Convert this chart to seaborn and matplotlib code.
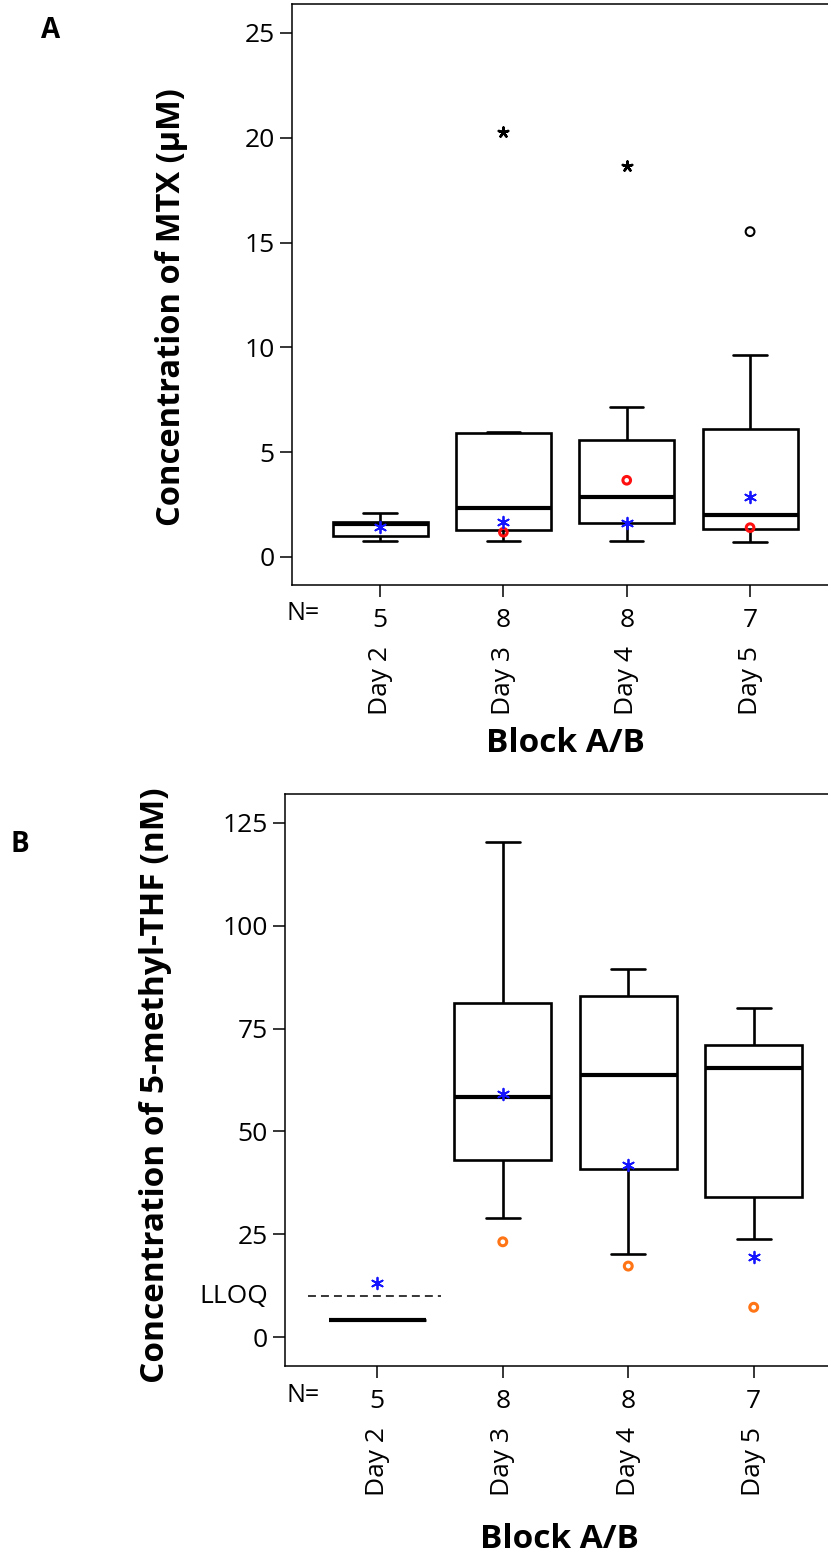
import numpy as np
import pandas as pd
import matplotlib
matplotlib.use("Agg")
import matplotlib.pyplot as plt
import seaborn as sns

# ---- categories -------------------------------------------------------------
days = ["Day 2", "Day 3", "Day 4", "Day 5"]
n_counts = [5, 8, 8, 7]

# ---- panel A: MTX (uM), five-number summaries per day ----------------------
mtx_whisker_lo = [0.76, 0.76, 0.76, 0.70]
mtx_q1 = [1.00, 1.29, 1.64, 1.32]
mtx_median = [1.58, 2.35, 2.85, 1.99]
mtx_q3 = [1.66, 5.90, 5.58, 6.12]
mtx_whisker_hi = [2.08, 5.95, 7.16, 9.64]

# SPSS-flagged points: extreme values (*) and outliers (o)
mtx_extreme_day = [1, 2]
mtx_extreme_val = [20.26, 18.67]
mtx_outlier_day = [3]
mtx_outlier_val = [15.52]

# highlighted individual patients
mtx_blue_day = [0, 1, 2, 3]
mtx_blue_val = [1.42, 1.69, 1.64, 2.88]
mtx_red_day = [1, 2, 3]
mtx_red_val = [1.18, 3.66, 1.40]

# ---- panel B: 5-methyl-THF (nM) ---------------------------------------------
thf_whisker_lo = [4.2, 28.9, 20.2, 23.8]
thf_q1 = [4.2, 43.1, 41.0, 34.1]
thf_median = [4.2, 58.4, 63.7, 65.5]
thf_q3 = [4.2, 81.2, 82.9, 71.0]
thf_whisker_hi = [4.2, 120.4, 89.5, 80.1]
lloq = 10.0

thf_blue_day = [0, 1, 2, 3]
thf_blue_val = [13.25, 59.0, 41.8, 19.4]
thf_orange_day = [1, 2, 3]
thf_orange_val = [23.2, 17.3, 7.3]


def summary_frame(lo, q1, med, q3, hi):
    rows = []
    for d, vals in zip(days, zip(lo, q1, med, q3, hi)):
        rows.extend((d, v) for v in vals)
    return pd.DataFrame(rows, columns=["day", "value"])


sns.set_theme(style="white")
plt.rcParams["font.family"] = ["Open Sans", "DejaVu Sans"]
plt.rcParams["axes.linewidth"] = 1.1
plt.rcParams["text.color"] = "black"
plt.rcParams["axes.labelcolor"] = "black"
plt.rcParams["xtick.color"] = "black"
plt.rcParams["ytick.color"] = "black"

W, H = 829, 1556
fig = plt.figure(figsize=(W / 100, H / 100), dpi=100)


def fx(px):
    return px / W


def fy(py):
    return 1 - py / H


axA = fig.add_axes([fx(292), fy(585), 1 - fx(292), fy(4) - fy(585)])
axB = fig.add_axes([fx(285.5), fy(1366), 1 - fx(285.5), fy(794) - fy(1366)])

box_kw = dict(x="day", y="value", order=days, width=0.77, color="white",
              linecolor="black", linewidth=1.9, fliersize=0,
              medianprops={"linewidth": 3.0}, capwidths=0.27)

sns.boxplot(data=summary_frame(mtx_whisker_lo, mtx_q1, mtx_median, mtx_q3,
                               mtx_whisker_hi), ax=axA, **box_kw)
sns.boxplot(data=summary_frame(thf_whisker_lo, thf_q1, thf_median, thf_q3,
                               thf_whisker_hi), ax=axB, **box_kw)

blue = "#1414ff"
red = "#ff1010"
orange = "#ff7414"

# panel A markers
axA.scatter(mtx_extreme_day, mtx_extreme_val, marker=(5, 2, 0), s=50,
            color="black", linewidths=1.8, zorder=5)
axA.scatter(mtx_outlier_day, mtx_outlier_val, marker="o", s=40,
            facecolors="none", edgecolors="black", linewidths=1.5, zorder=5)
axA.scatter(mtx_red_day, mtx_red_val, marker="o", s=30,
            facecolors="none", edgecolors=red, linewidths=2.2, zorder=6)
axA.scatter(mtx_blue_day, mtx_blue_val, marker=(6, 2, 0), s=70,
            color=blue, linewidths=1.3, zorder=7)

# panel B markers and LLOQ
axB.hlines(lloq, -0.55, 0.505, colors="black", linewidth=1.1,
           linestyles=(0, (5.2, 3.3)), zorder=4)
axB.scatter(thf_orange_day, thf_orange_val, marker="o", s=32,
            facecolors="none", edgecolors=orange, linewidths=2.2, zorder=6)
axB.scatter(thf_blue_day, thf_blue_val, marker=(6, 2, 0), s=70,
            color=blue, linewidths=1.3, zorder=7)

# axes formatting
for ax, ylim, yticks in [
    (axA, (-1.336, 26.38), np.arange(0, 26, 5)),
    (axB, (-6.97, 131.97), np.arange(0, 126, 25)),
]:
    ax.set_ylim(*ylim)
    ax.set_yticks(yticks)
    ax.set_yticklabels([str(v) for v in yticks])
    ax.set_xticks(range(len(days)))
    ax.set_xticklabels([str(n) for n in n_counts])
    ax.set_xlabel("")
    ax.set_ylabel("")
    ax.spines["right"].set_visible(False)
    for s in ("left", "top", "bottom"):
        ax.spines[s].set_color("black")
        ax.spines[s].set_linewidth(1.1)
    ax.tick_params(axis="both", direction="out", length=8.6, width=1.1,
                   color="black", labelsize=19, labelcolor="black",
                   left=True, bottom=True)
    ax.tick_params(axis="y", pad=4)
    ax.tick_params(axis="x", pad=8)
    for i, d in enumerate(days):
        ax.annotate(d, xy=(i, 0), xycoords=("data", "axes fraction"),
                    xytext=(0, -44), textcoords="offset points",
                    rotation=90, ha="center", va="top", fontsize=19)

axA.set_xlim(-0.714, 3.64)
axB.set_xlim(-0.732, 3.60)

axB.annotate("LLOQ", xy=(0, lloq), xycoords=("axes fraction", "data"),
             xytext=(-12.6, 0), textcoords="offset points",
             ha="right", va="center", fontsize=19)

# N= row labels
fig.text(fx(287), fy(613), "N=", ha="left", va="center", fontsize=18)
fig.text(fx(287), fy(1396), "N=", ha="left", va="center", fontsize=18)

# axis titles
fig.text(fx(565), fy(743), "Block A/B", ha="center", va="center",
         fontsize=24, fontweight="bold")
fig.text(fx(559), fy(1539), "Block A/B", ha="center", va="center",
         fontsize=24, fontweight="bold")
fig.text(fx(172), fy(307), "Concentration of MTX (\u03bcM)", rotation=90,
         ha="center", va="center", fontsize=23.5, fontweight="bold")
fig.text(fx(156), fy(1085), "Concentration of 5-methyl-THF (nM)",
         rotation=90, ha="center", va="center", fontsize=24,
         fontweight="bold")

# panel letters
fig.text(fx(51), fy(30), "A", ha="center", va="center", fontsize=20,
         fontweight="bold")
fig.text(fx(20), fy(845), "B", ha="center", va="center", fontsize=20,
         fontweight="bold")

fig.savefig("out.png", dpi=100, facecolor="white")
